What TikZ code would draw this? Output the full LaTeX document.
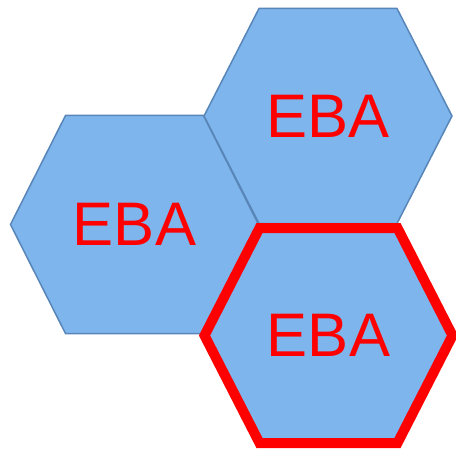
\documentclass[tikz,border=0pt]{standalone}
\usepackage{fontspec}
\setmainfont{Liberation Sans}
\definecolor{hexfill}{RGB}{126,181,237}
\definecolor{hexline}{RGB}{88,134,184}
\newcommand{\hexcell}[3]{% style, centre, half height
  \draw[#1] ($(#2)+(-124,0)$) -- ++(55,-#3) -- ++(138,0) -- ++(55,#3) -- ++(-55,#3) -- ++(-138,0) -- cycle;}
\usetikzlibrary{calc}
\begin{document}
\begin{tikzpicture}[x=1pt,y=-1pt,
       hexcell/.style={fill=hexfill,draw=hexline,line width=1.5pt,line join=miter},
       hexmark/.style={fill=hexfill,draw=red,line width=10pt,line join=miter},
       label/.style={text=red,inner sep=0pt,font=\fontsize{61.5}{70}\selectfont}]
       \useasboundingbox (0,0) rectangle (456,452);
       \coordinate (L) at (134.5,224.5);
       \coordinate (T) at (328,116);
       \coordinate (B) at (328.5,335.5);
       \hexcell{hexcell}{L}{109}
       \hexcell{hexcell}{T}{107.5}
       \hexcell{hexmark}{B}{107.5}
       \node[label] (left) at (L) {EBA};
       \node[label] (top) at (T) {EBA};
       \node[label] (bottom) at (B) {EBA};
     \end{tikzpicture}
\end{document}
